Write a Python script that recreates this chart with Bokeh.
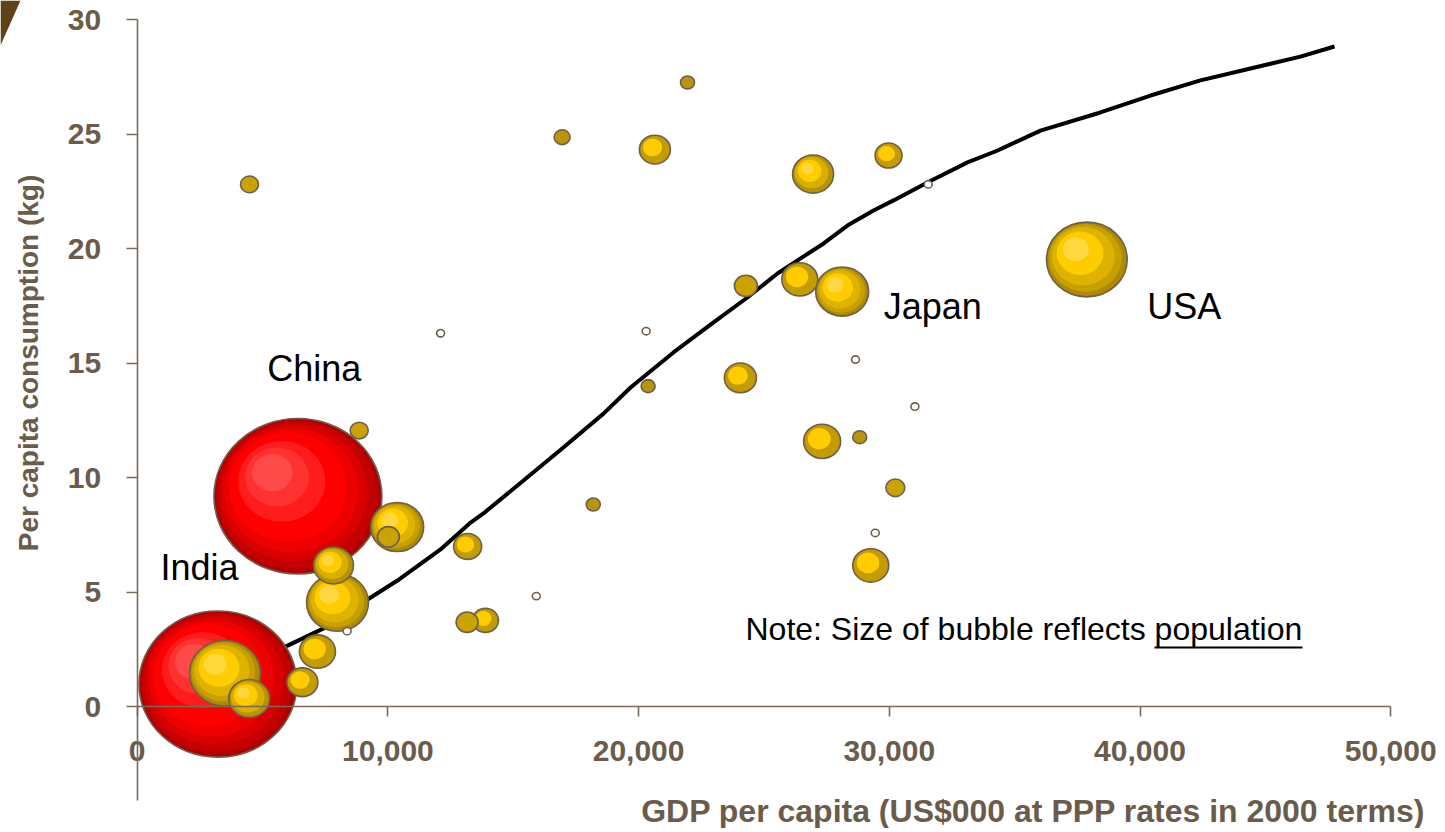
import numpy as np
from bokeh.plotting import figure
from bokeh.models import ColumnDataSource, FixedTicker, NumeralTickFormatter, Label, Range1d
from bokeh.embed import file_html
from bokeh.resources import INLINE

# ---------------- data ----------------
# bubbles: GDP per capita, per-capita consumption (kg), population (millions)
gdp = [3220, 6410, 3500, 4470, 6590, 7190, 7990, 8375, 7830, 10370,
       10020, 8855, 4480, 12100, 13180, 13160, 13890, 15920, 18190, 16950,
       20650, 21950, 20300, 20380, 24060, 24280, 26430, 28120, 26960, 29970,
       31550, 37880, 28650, 27320, 28820, 31020, 30240, 29440, 29260]
kg = [0.98, 9.18, 1.45, 0.35, 1.06, 2.40, 4.54, 3.29, 6.16, 7.84,
      7.41, 12.05, 22.80, 16.30, 6.99, 3.68, 3.76, 4.82, 8.82, 24.86,
      24.32, 27.25, 16.39, 13.99, 14.35, 18.37, 18.65, 18.12, 23.25, 24.06,
      22.80, 19.52, 15.15, 11.58, 11.76, 13.10, 9.55, 7.58, 6.16]
population = [1110, 1255, 224, 75, 43, 58, 171, 2.8, 71, 125,
              21.5, 14.4, 14.4, 2.8, 35, 21.5, 30, 2.8, 8.7, 11.4,
              43, 8.7, 2.8, 8.7, 45.6, 23.5, 57.7, 125, 75, 32.4,
              2.8, 290, 2.8, 61, 8.7, 2.8, 16, 2.8, 57.7]
country = ["India", "China"] + [""] * 37

# trend curve
curve_gdp = [3000, 6000, 7830, 9190, 10380, 12100, 13300, 13810, 15410, 17000,
             18600, 19680, 21390, 22990, 24340, 25540, 26340, 27380, 28330, 29370,
             30170, 31520, 33120, 34320, 36030, 38420, 40420, 42410, 44410, 46400, 47760]
curve_kg = [1.48, 2.66, 3.62, 4.67, 5.50, 6.86, 8.03, 8.43, 9.87, 11.31,
            12.79, 13.93, 15.46, 16.77, 17.86, 18.91, 19.48, 20.22, 21.00, 21.66,
            22.10, 22.88, 23.76, 24.28, 25.15, 25.94, 26.68, 27.34, 27.86, 28.38, 28.82]

x_ticks = [0, 10000, 20000, 30000, 40000, 50000]
y_ticks = [0, 5, 10, 15, 20, 25, 30]

point_labels = ["China", "India", "Japan", "USA"]
point_label_x = [5190, 930, 29780, 40290]
point_label_y = [14.76, 6.07, 17.45, 17.45]

note_text = "Note: Size of bubble reflects population"
x_title = "GDP per capita (US$000 at PPP rates in 2000 terms)"
y_title = "Per capita consumption (kg)"

# ---------------- layout ----------------
W, H = 1440, 828
SX = 250.7 / 10000          # px per GDP unit
SY = 22.9                   # px per kg
X_START = -136.7 / SX
X_END = X_START + W / SX
Y_END = 30 + 19 / SY
Y_START = Y_END - H / SY


def px2x(px):
    return X_START + px / SX


def py2y(py):
    return Y_END - py / SY


BROWN = "#6B5B4B"
AXIS = "#7A6A5A"
FONT = "Liberation Sans"

p = figure(frame_width=W, frame_height=H, output_backend="svg", toolbar_location=None,
           x_range=Range1d(X_START, X_END), y_range=Range1d(Y_START, Y_END),
           min_border_left=0, min_border_right=0, min_border_top=0, min_border_bottom=0,
           background_fill_color="white", border_fill_color="white")
p.outline_line_color = None
p.grid.visible = False

xa = p.xaxis[0]
xa.fixed_location = 0
xa.bounds = (0, 50000)
xa.ticker = FixedTicker(ticks=x_ticks)
xa.formatter = NumeralTickFormatter(format="0,0")
xa.major_tick_out = 10
xa.major_label_standoff = 24

ya = p.yaxis[0]
ya.fixed_location = 0
ya.bounds = (-4.1, 30)
ya.ticker = FixedTicker(ticks=y_ticks)
ya.major_tick_out = 11
ya.major_label_standoff = 25

for ax in (xa, ya):
    ax.axis_line_color = AXIS
    ax.axis_line_width = 1.6
    ax.major_tick_in = 0
    ax.minor_tick_line_color = None
    ax.major_tick_line_color = AXIS
    ax.major_tick_line_width = 1.6
    ax.major_label_text_font = FONT
    ax.major_label_text_font_style = "bold"
    ax.major_label_text_font_size = "30px"
    ax.major_label_text_color = BROWN

# slide decoration in the top-left corner
p.patch(x=[px2x(0), px2x(20), px2x(0)], y=[py2y(0), py2y(0), py2y(45)],
        fill_color="#5E4317", line_color=None)

# trend line (behind the bubbles)
p.line(curve_gdp, curve_kg, line_color="black", line_width=4)

# ---------------- bubbles ----------------
K = 4.74          # px diameter per sqrt(million people)
ASPECT = 1.08     # bubbles are slightly wider than tall
OFF = 0.2

RED = [("#B00000", 1.0), ("#C40000", 0.95), ("#D80000", 0.88), ("#EC0000", 0.8),
       ("#FF0000", 0.7), ("#FF1C1C", 0.52), ("#FF3232", 0.38), ("#FF4A4A", 0.24)]
GOLD_FULL = [("#AE8A00", 1.0), ("#C7A000", 0.9), ("#DDB300", 0.78), ("#FFCC00", 0.58), ("#FFD840", 0.32)]
GOLD_3 = [("#B69300", 1.0), ("#D8AE00", 0.82), ("#FFCC00", 0.58), ("#FFD640", 0.3)]
GOLD_2 = [("#C29C00", 1.0), ("#FFCC00", 0.62)]

order = np.argsort(-np.array(population), kind="stable")
for i in order:
    D = K * np.sqrt(population[i])
    if country[i] in ("China", "India"):
        layers = RED
    elif D < 10:
        layers = [("white", 1.0)]
    elif D < 17:
        layers = [("#B8950A", 1.0)]
    elif D < 25:
        layers = [("#CBA300", 1.0)]
    elif D < 39:
        layers = GOLD_2
    elif D < 50:
        layers = GOLD_3
    else:
        layers = GOLD_FULL
    cols = [c for c, s in layers]
    sc = np.array([s for c, s in layers])
    off_px = (1 - sc) * OFF * D
    src = ColumnDataSource(dict(
        x=gdp[i] - off_px / SX,
        y=kg[i] + off_px / ASPECT / SY,
        w=sc * D,
        h=sc * D / ASPECT,
        c=cols,
        la=[1.0] + [0.0] * (len(layers) - 1),
    ))
    p.ellipse(x="x", y="y", width="w", height="h", width_units="screen", height_units="screen",
              fill_color="c", line_color="#6E5E4E", line_alpha="la", line_width=1.6, source=src)

# ---------------- text ----------------
for t, lx, ly in zip(point_labels, point_label_x, point_label_y):
    p.add_layout(Label(x=lx, y=ly, text=t, text_font=FONT, text_font_size="36px",
                       text_color="black", text_align="left", text_baseline="middle"))

NOTE_X, NOTE_Y = 24264, 3.38
p.add_layout(Label(x=NOTE_X, y=NOTE_Y, text=note_text, text_font=FONT, text_font_size="32px",
                   text_color="black", text_align="left", text_baseline="middle"))
# underline of the word "population"
uy = py2y(647)
p.segment(x0=[NOTE_X + 409 / SX], y0=[uy], x1=[NOTE_X + 557 / SX], y1=[uy],
          line_color="black", line_width=2)

p.add_layout(Label(x=px2x(1425), y=py2y(810), text=x_title, text_font=FONT,
                   text_font_size="32px", text_font_style="bold", text_color=BROWN,
                   text_align="right", text_baseline="middle"))
p.add_layout(Label(x=px2x(28), y=15, angle=np.pi / 2, text=y_title, text_font=FONT,
                   text_font_size="28px", text_font_style="bold", text_color=BROWN,
                   text_align="center", text_baseline="middle"))

open("out.html", "w").write(file_html(p, INLINE))
